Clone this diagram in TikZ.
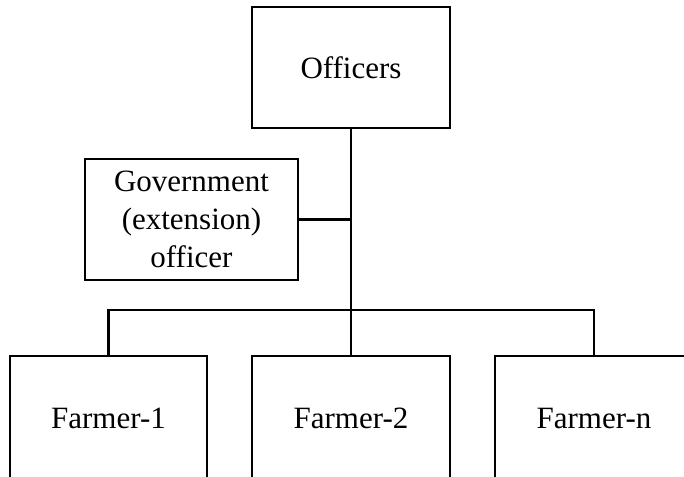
\documentclass[tikz,border=0pt]{standalone}
\usepackage{fontspec}
\setmainfont{Liberation Serif}
\begin{document}
\begin{tikzpicture}[x=1pt,y=-1pt,
  box/.style={draw=black, line width=2.2pt, rectangle, inner sep=0pt, align=center,
    font=\fontsize{31}{38}\selectfont},
  conn/.style={draw=black, line width=2.2pt}]
\useasboundingbox (0,0) rectangle (684,476);
\clip (0,0) rectangle (684,476);
\fill[white] (0,0) rectangle (684,476);
\node[box, minimum width=198pt, minimum height=121pt] (off) at (351,67.5) {Officers};
\node[box, minimum width=213pt, minimum height=121pt] (gov) at (191.5,219.5) {Government\\(extension)\\officer};
\node[box, minimum width=197pt, minimum height=124pt] (f1) at (108.5,418) {Farmer-1};
\node[box, minimum width=198pt, minimum height=124pt] (f2) at (351,418) {Farmer-2};
\node[box, minimum width=198pt, minimum height=124pt] (fn) at (594,418) {Farmer-n};
\coordinate (bus) at (351,310);
\draw[conn] (off.south) -- (f2.north);
\draw[conn] (gov.east) -- (gov.east -| off.south);
\draw[conn] (f1.north) |- (bus) -| (fn.north);
\end{tikzpicture}
\end{document}
